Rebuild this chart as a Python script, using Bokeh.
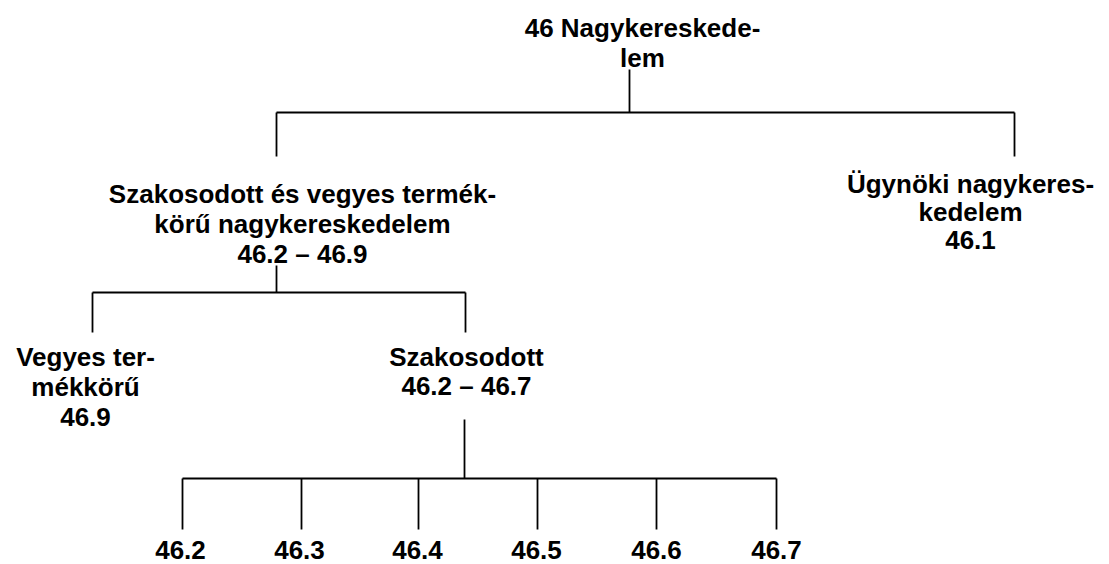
from bokeh.plotting import figure
from bokeh.models import ColumnDataSource
from bokeh.core.properties import value
from bokeh.embed import file_html
from bokeh.resources import INLINE

# Node labels (each node: list of text lines), centre x and first-line y
node_lines = [
    ["46 Nagykereskede-", "lem"],
    ["Szakosodott és vegyes termék-", "körű nagykereskedelem", "46.2 – 46.9"],
    ["Ügynöki nagykeres-", "kedelem", "46.1"],
    ["Vegyes ter-", "mékkörű", "46.9"],
    ["Szakosodott", "46.2 – 46.7"],
    ["46.2"], ["46.3"], ["46.4"], ["46.5"], ["46.6"], ["46.7"],
]
node_x = [642, 302, 970, 85, 466, 180, 299, 417, 536, 656, 776]
node_y = [27, 193, 183, 356, 356, 549, 549, 549, 549, 549, 549]
node_gap = [30, 30, 28, 30, 29, 0, 0, 0, 0, 0, 0]

# Connectors: parent stem x, stem top, bar y, child xs, child bottom
groups_stem_x = [629, 276, 464]
groups_stem_top = [69, 265, 419]
groups_bar_y = [112, 292, 478]
groups_child_x = [[276, 1014], [92, 465], [182, 301, 418, 537, 656, 776]]
groups_child_bottom = [156, 332, 529]

W, H = 1109, 564
p = figure(width=W, height=H, x_range=(0, W), y_range=(H, 0),
           output_backend="svg", toolbar_location=None, min_border=0)
p.axis.visible = False
p.grid.visible = False
p.outline_line_color = None
p.background_fill_color = "white"

x0, y0, x1, y1 = [], [], [], []
for sx, st, by, cxs, cb in zip(groups_stem_x, groups_stem_top, groups_bar_y,
                               groups_child_x, groups_child_bottom):
    x0.append(sx); y0.append(st); x1.append(sx); y1.append(by)
    x0.append(min(cxs)); y0.append(by); x1.append(max(cxs)); y1.append(by)
    for cx in cxs:
        x0.append(cx); y0.append(by); x1.append(cx); y1.append(cb)
p.segment(x0=x0, y0=y0, x1=x1, y1=y1, line_color="black", line_width=1.8)

tx, ty, tt = [], [], []
for lines, cx, cy, g in zip(node_lines, node_x, node_y, node_gap):
    for i, ln in enumerate(lines):
        tx.append(cx); ty.append(cy + i * g); tt.append(ln)
src = ColumnDataSource(dict(x=tx, y=ty, text=tt))
p.text(x="x", y="y", text="text", source=src, text_align="center",
       text_baseline="middle", text_font=value("Liberation Sans"),
       text_font_style="bold", text_font_size="26px", text_color="black")

open("out.html", "w").write(file_html(p, INLINE))
